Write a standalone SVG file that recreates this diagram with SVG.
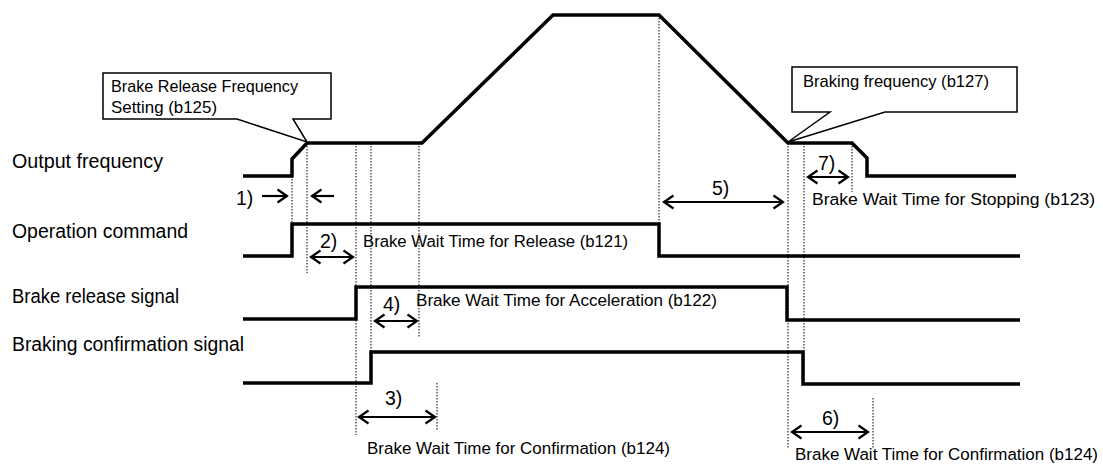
<svg xmlns="http://www.w3.org/2000/svg" width="1103" height="465" viewBox="0 0 1103 465">
<style>
text{font-family:"Liberation Sans",Arial,sans-serif;fill:#000}
.lbl{font-size:19.5px}
.co{font-size:16.2px}
.bw{font-size:16.7px}
.num{font-size:19.5px}
.wave{fill:none;stroke:#000;stroke-width:3.5;stroke-linejoin:miter}
.dot{fill:none;stroke:#000;stroke-width:1;stroke-dasharray:1.5 1.5}
.arr{fill:none;stroke:#000;stroke-width:2.2;marker-end:url(#ah)}
.arr2{fill:none;stroke:#000;stroke-width:2.2;marker-start:url(#ah);marker-end:url(#ah)}
.callout{fill:#fff;stroke:#000;stroke-width:1.5}
</style>
<defs>
<marker id="ah" markerUnits="userSpaceOnUse" viewBox="-12 -8 14 16" markerWidth="14" markerHeight="16" refX="0" refY="0" orient="auto-start-reverse" overflow="visible">
<path d="M-9.5,-6.5 L0,0 L-9.5,6.5" fill="none" stroke="#000" stroke-width="2.2"/>
</marker>
</defs>
<rect width="1103" height="465" fill="#fff"/>

<g id="labels">
<text class="lbl" x="12" y="168" textLength="151" lengthAdjust="spacingAndGlyphs">Output frequency</text>
<text class="lbl" x="12" y="238" textLength="176" lengthAdjust="spacingAndGlyphs">Operation command</text>
<text class="lbl" x="12" y="303" textLength="167" lengthAdjust="spacingAndGlyphs">Brake release signal</text>
<text class="lbl" x="12" y="351" textLength="232" lengthAdjust="spacingAndGlyphs">Braking confirmation signal</text>
</g>

<g id="connectors">
<line class="dot" x1="292" y1="176" x2="292" y2="224"/>
<line class="dot" x1="307" y1="143" x2="307" y2="273"/>
<line class="dot" x1="356" y1="143" x2="356" y2="435"/>
<line class="dot" x1="371" y1="143" x2="371" y2="383"/>
<line class="dot" x1="419" y1="143" x2="419" y2="337"/>
<line class="dot" x1="437" y1="383" x2="437" y2="430"/>
<line class="dot" x1="659" y1="15" x2="659" y2="224"/>
<line class="dot" x1="788" y1="143" x2="788" y2="448"/>
<line class="dot" x1="804" y1="143" x2="804" y2="384"/>
<line class="dot" x1="852" y1="143" x2="852" y2="192"/>
<line class="dot" x1="873" y1="398" x2="873" y2="448"/>
<line class="arr" x1="262" y1="196" x2="287" y2="196"/>
<line class="arr" x1="334" y1="196" x2="312" y2="196"/>
<line class="arr2" x1="311" y1="257" x2="353" y2="257"/>
<line class="arr2" x1="359" y1="417" x2="435" y2="417"/>
<line class="arr2" x1="375" y1="321" x2="417" y2="321"/>
<line class="arr2" x1="664" y1="202" x2="783" y2="202"/>
<line class="arr2" x1="792" y1="432" x2="868" y2="432"/>
<line class="arr2" x1="808" y1="177" x2="848" y2="177"/>
</g>

<g id="output-frequency">
<path class="wave" d="M243,176 H292 V159 L307,143 H422 L553,15 H659 L788,143 H852 L867,158 V176 H1016"/>
</g>
<g id="operation-command">
<path class="wave" d="M243,256 H292 V224 H659 V256 H1020"/>
</g>
<g id="brake-release-signal">
<path class="wave" d="M243,319 H356 V287 H787 V320 H1020"/>
</g>
<g id="braking-confirmation-signal">
<path class="wave" d="M243,383 H371 V352 H803 V384 H1020"/>
</g>

<g id="callout-b125">
<path class="callout" d="M103,73 H331 V119 H293 L307,142 L237,119 H103 Z"/>
<text class="co" x="111" y="92" textLength="187" lengthAdjust="spacingAndGlyphs">Brake Release Frequency</text>
<text class="co" x="111" y="113" textLength="106" lengthAdjust="spacingAndGlyphs">Setting (b125)</text>
</g>
<g id="callout-b127">
<path class="callout" d="M792,67 H1017 V112 H885 L788,142 L830,112 H792 Z"/>
<text class="co" x="803" y="87" textLength="186" lengthAdjust="spacingAndGlyphs">Braking frequency (b127)</text>
</g>

<g id="step-labels">
<text class="num" x="236" y="205">1)</text>
<text class="num" x="320" y="248">2)</text>
<text class="num" x="385" y="405">3)</text>
<text class="num" x="383" y="311">4)</text>
<text class="num" x="712" y="195">5)</text>
<text class="num" x="822" y="425">6)</text>
<text class="num" x="818" y="170">7)</text>
</g>

<g id="time-labels">
<text class="bw" x="363" y="247" textLength="265" lengthAdjust="spacingAndGlyphs">Brake Wait Time for Release (b121)</text>
<text class="bw" x="416" y="306" textLength="301" lengthAdjust="spacingAndGlyphs">Brake Wait Time for Acceleration (b122)</text>
<text class="bw" x="812" y="205" textLength="283" lengthAdjust="spacingAndGlyphs">Brake Wait Time for Stopping (b123)</text>
<text class="bw" x="367" y="454" textLength="303" lengthAdjust="spacingAndGlyphs">Brake Wait Time for Confirmation (b124)</text>
<text class="bw" x="795" y="460" textLength="303" lengthAdjust="spacingAndGlyphs">Brake Wait Time for Confirmation (b124)</text>
</g>
</svg>
